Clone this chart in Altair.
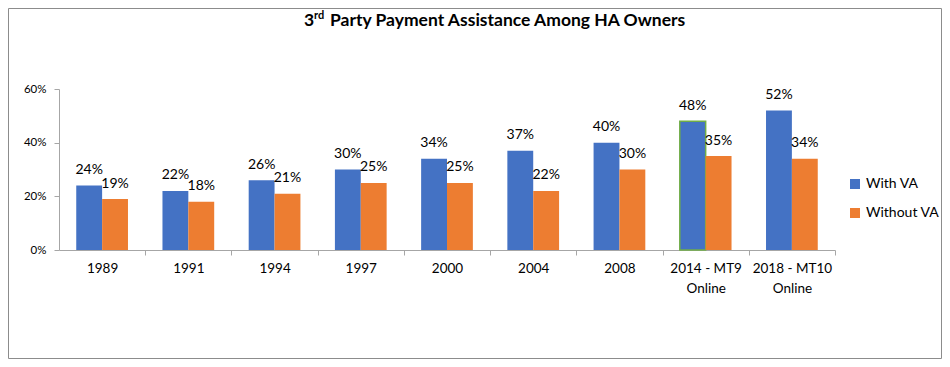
import altair as alt
import pandas as pd

categories = ["1989", "1991", "1994", "1997", "2000", "2004", "2008",
              "2014 - MT9 Online", "2018 - MT10 Online"]
with_va = [24, 22, 26, 30, 34, 37, 40, 48, 52]
without_va = [19, 18, 21, 25, 25, 22, 30, 35, 34]
series = ["With VA", "Without VA"]
colors = ["#4472C4", "#ED7D31"]
title_parts = ["3", "rd", "Party Payment Assistance Among HA Owners"]

rows = []
for c, a, b in zip(categories, with_va, without_va):
    rows.append({"cat": c, "series": series[0], "pct": a})
    rows.append({"cat": c, "series": series[1], "pct": b})
df = pd.DataFrame(rows)
df["val"] = df["pct"] / 100.0

W, H = 776, 161
PL, PT, PR, PB = 51, 81, 107, 109
FONT = "Lato"
step = W / len(categories)

x_enc = alt.X(
    "cat:N", sort=categories,
    scale=alt.Scale(paddingInner=0.4, paddingOuter=0.2),
    axis=alt.Axis(
        title=None, labelAngle=0, domainColor="#a6a6a6", tickColor="#a6a6a6",
        tickSize=5, tickOffset=step / 2, labelOffset=-step / 2, bandPosition=0.5,
        labelFont=FONT, labelFontSize=13.5, labelColor="#000000",
        labelPadding=6, labelLineHeight=20,
        labelExpr="indexof(datum.label, ' Online') > 0 ? [replace(datum.label, ' Online', ''), 'Online'] : datum.label",
    ),
)
xo_enc = alt.XOffset("series:N", sort=series, scale=alt.Scale(paddingInner=0, paddingOuter=0))
y_enc = alt.Y(
    "val:Q", scale=alt.Scale(domain=[0, 0.6]),
    axis=alt.Axis(
        title=None, format=".0%", values=[0, 0.2, 0.4, 0.6], grid=False,
        domainColor="#a6a6a6", tickColor="#a6a6a6", tickSize=5, labelPadding=8,
        labelFont=FONT, labelFontSize=11.5, labelColor="#000000",
    ),
)

base = alt.Chart(df)

bars = base.mark_bar(strokeWidth=1.5).encode(
    x=x_enc, xOffset=xo_enc, y=y_enc,
    color=alt.Color(
        "series:N", sort=series, scale=alt.Scale(domain=series, range=colors),
        legend=alt.Legend(
            title=None, orient="none", legendX=789, legendY=88,
            symbolType="square", symbolSize=100, symbolStrokeWidth=0,
            labelFont=FONT, labelFontSize=14, labelColor="#000000",
            labelOffset=4, rowPadding=15,
        ),
    ),
    stroke=alt.condition(
        "datum.cat == '2014 - MT9 Online' && datum.series == 'With VA'",
        alt.value("#70AD47"), alt.value(None),
    ),
)

labels = base.mark_text(
    baseline="middle", align="center", dy=-15.5, font=FONT, fontSize=14, color="#000000"
).encode(
    x=alt.X("cat:N", sort=categories), xOffset=alt.XOffset("series:N", sort=series),
    y="val:Q",
    text=alt.Text("val:Q", format=".0%"),
)

one = pd.DataFrame({"a": [0]})
frame = alt.Chart(one).mark_rect(filled=False, stroke="#8c8c8c", strokeWidth=1).encode(
    x=alt.value(-PL + 0.5), x2=alt.value(W + PR - 0.5),
    y=alt.value(-PT + 0.5), y2=alt.value(H + PB - 0.5),
)

t1 = alt.Chart(pd.DataFrame({"t": [title_parts[0]]})).mark_text(
    align="left", baseline="alphabetic", font=FONT, fontSize=17.5, fontWeight="bold", color="#000000"
).encode(text="t:N", x=alt.value(245), y=alt.value(-63))
t2 = alt.Chart(pd.DataFrame({"t": [title_parts[1]]})).mark_text(
    align="left", baseline="alphabetic", font=FONT, fontSize=11, fontWeight="bold", color="#000000"
).encode(text="t:N", x=alt.value(255), y=alt.value(-70))
t3 = alt.Chart(pd.DataFrame({"t": [title_parts[2]]})).mark_text(
    align="left", baseline="alphabetic", font=FONT, fontSize=17.5, fontWeight="bold", color="#000000"
).encode(text="t:N", x=alt.value(271), y=alt.value(-63))

chart = alt.layer(frame, bars, labels, t1, t2, t3).resolve_scale(
    x="shared"
).properties(
    width=W, height=H,
    autosize=alt.AutoSizeParams(type="none"),
    padding={"left": PL, "top": PT, "right": PR, "bottom": PB},
    background="white",
).configure_view(stroke=None)

chart.save("out.html", embed_options={"renderer": "svg", "actions": False})
